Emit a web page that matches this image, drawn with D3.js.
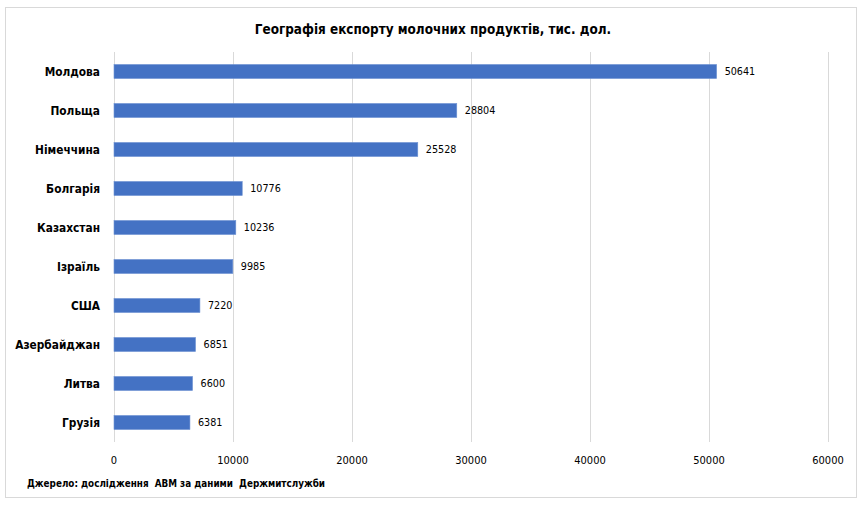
<!DOCTYPE html>
<html>
<head>
<meta charset="utf-8">
<script src="https://cdn.jsdelivr.net/npm/d3@7"></script>
<style>
  body { margin: 0; background: #fff; }
  svg { font-family: "DejaVu Sans Condensed", "Liberation Sans", Arial, sans-serif; }
</style>
</head>
<body>
<svg id="chart" width="866" height="510"></svg>
<script>
// дані з діаграми
const countries = ["Молдова", "Польща", "Німеччина", "Болгарія", "Казахстан",
    "Ізраїль", "США", "Азербайджан", "Литва", "Грузія"];
const values = [50641, 28804, 25528, 10776, 10236, 9985, 7220, 6851, 6600, 6381];
const xTicks = [0, 10000, 20000, 30000, 40000, 50000, 60000];

const titleText = "Географія експорту молочних продуктів, тис. дол.";
const sourceText = "Джерело: дослідження  АВМ за даними  Держмитслужби";

const svg = d3.select("#chart");

// рамка
svg.append("rect")
    .attr("x", 5.5).attr("y", 7.5)
    .attr("width", 851).attr("height", 490)
    .attr("fill", "#fff")
    .attr("stroke", "#d9d9d9");

const plotLeft = 114, plotRight = 828, plotTop = 52, plotBottom = 442;

let xScale = d3.scaleLinear().domain([0, 60000]).range([plotLeft, plotRight]);
let yScale = d3.scaleBand().domain(countries).range([plotTop, plotBottom]).paddingInner(0.64).paddingOuter(0.32);

// сітка
svg.append("g")
    .selectAll("line")
    .data(xTicks)
    .enter()
    .append("line")
    .attr("x1", d => Math.round(xScale(d)) + 0.5)
    .attr("x2", d => Math.round(xScale(d)) + 0.5)
    .attr("y1", plotTop)
    .attr("y2", plotBottom)
    .attr("stroke", "#d9d9d9");

// підписи осі
svg.append("g")
    .selectAll("text")
    .data(xTicks)
    .enter()
    .append("text")
    .attr("x", d => xScale(d))
    .attr("y", 464)
    .attr("text-anchor", "middle")
    .attr("font-size", 11)
    .attr("fill", "#000")
    .text(d => d);

const data = countries.map((c, i) => ({ country: c, value: values[i] }));

// смуги
svg.append("g")
    .selectAll("rect")
    .data(data)
    .enter()
    .append("rect")
    .attr("x", xScale(0))
    .attr("y", d => yScale(d.country))
    .attr("width", d => xScale(d.value) - xScale(0))
    .attr("height", yScale.bandwidth())
    .attr("fill", "#4472c4")
    .attr("stroke", "#6f93d3")
    .attr("stroke-width", 0.6);

// значення
svg.append("g")
    .selectAll("text")
    .data(data)
    .enter()
    .append("text")
    .attr("x", d => xScale(d.value) + 8)
    .attr("y", d => yScale(d.country) + yScale.bandwidth() / 2)
    .attr("dy", "0.35em")
    .attr("font-size", 10.7)
    .attr("fill", "#000")
    .text(d => d.value);

// категорії
svg.append("g")
    .selectAll("text")
    .data(data)
    .enter()
    .append("text")
    .attr("x", 100)
    .attr("y", d => yScale(d.country) + yScale.bandwidth() / 2)
    .attr("dy", "0.35em")
    .attr("text-anchor", "end")
    .attr("font-size", 11.8)
    .attr("font-weight", "bold")
    .attr("fill", "#000")
    .text(d => d.country);

svg.append("text")
    .attr("x", 433)
    .attr("y", 34)
    .attr("text-anchor", "middle")
    .attr("font-size", 13.4)
    .attr("font-weight", "bold")
    .attr("fill", "#000")
    .text(titleText);

svg.append("text")
    .attr("x", 27)
    .attr("y", 487)
    .attr("font-size", 9.8)
    .attr("font-weight", "bold")
    .attr("fill", "#000")
    .style("white-space", "pre")
    .text(sourceText);
</script>
</body>
</html>
